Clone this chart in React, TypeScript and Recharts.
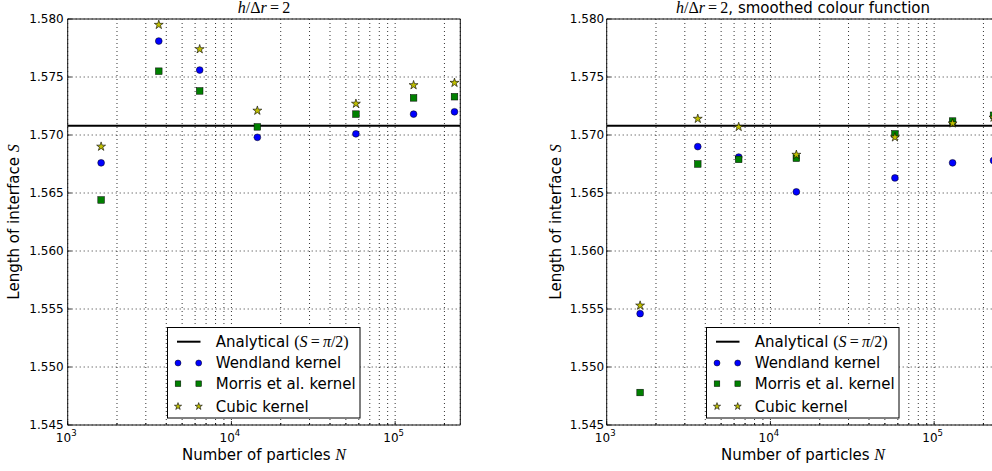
import React from "react"
import {
  ScatterChart,
  Scatter,
  XAxis,
  YAxis,
  CartesianGrid,
  ReferenceLine,
  ReferenceArea,
} from "recharts"

// number of particles N (x positions of the runs)
const particles = [1600, 3600, 6400, 14400, 57600, 129600, 230400]

// left panel: h/dr = 2
const wendlandRaw = [1.5676, 1.5781, 1.5756, 1.5698, 1.5701, 1.5718, 1.572]
const morrisRaw = [1.5644, 1.5755, 1.5738, 1.5707, 1.5718, 1.5732, 1.5733]
const cubicRaw = [1.569, 1.5795, 1.5774, 1.5721, 1.5727, 1.5743, 1.5745]

// right panel: h/dr = 2, smoothed colour function
const wendlandSmooth = [1.5546, 1.569, 1.5681, 1.5651, 1.5663, 1.5676, 1.5678]
const morrisSmooth = [1.5478, 1.5675, 1.5679, 1.568, 1.5701, 1.5712, 1.5717]
const cubicSmooth = [1.5553, 1.5714, 1.5707, 1.5683, 1.5698, 1.571, 1.5715]

const analytical = Math.PI / 2

const majorTicks = [1000, 10000, 100000]
const xTicks = [
  1000, 2000, 3000, 4000, 5000, 6000, 7000, 8000, 9000,
  10000, 20000, 30000, 40000, 50000, 60000, 70000, 80000, 90000,
  100000, 200000,
]
const yTicks = [1.545, 1.55, 1.555, 1.56, 1.565, 1.57, 1.575, 1.58]

const X_MIN = 1000
const X_MAX = 250000
const Y_MIN = 1.545
const Y_MAX = 1.58

const SANS = "'DejaVu Sans', sans-serif"
const SERIF = "'Liberation Serif', 'DejaVu Serif', serif"

const starPoints = (cx: number, cy: number, R: number) => {
  const r = R * 0.382
  const pts: string[] = []
  for (let i = 0; i < 10; i++) {
    const a = -Math.PI / 2 + (i * Math.PI) / 5
    const rad = i % 2 === 0 ? R : r
    pts.push(`${cx + rad * Math.cos(a)},${cy + rad * Math.sin(a)}`)
  }
  return pts.join(" ")
}

const CircleMark = ({ cx, cy, r = 3.4 }: any) => (
  <circle cx={cx} cy={cy} r={r} fill="#0000ff" stroke="#000" strokeWidth={0.5} />
)
const SquareMark = ({ cx, cy, s = 6.6 }: any) => (
  <rect x={cx - s / 2} y={cy - s / 2} width={s} height={s} fill="#008000" stroke="#000" strokeWidth={0.5} />
)
const StarMark = ({ cx, cy, R = 4.7 }: any) => (
  <polygon points={starPoints(cx, cy, R)} fill="#bfbf00" stroke="#000" strokeWidth={0.6} strokeLinejoin="miter" />
)

const XTick = (props: any) => {
  const { x, y, payload } = props
  const v = payload.value
  const major = majorTicks.includes(v)
  return (
    <g>
      <line x1={x} x2={x} y1={y} y2={y - (major ? 4 : 2)} stroke="#000" strokeWidth={0.8} />
      {major && (
        <text x={x - 1.5} y={y + 16.7} textAnchor="middle" fontSize={12} fontFamily={SANS} fill="#000">
          10
          <tspan dy={-5.5} fontSize={8.5}>
            {Math.round(Math.log10(v))}
          </tspan>
        </text>
      )}
    </g>
  )
}

const makeYTick = (gap: number) => (props: any) => {
  const { x, y, payload } = props
  return (
    <g>
      <line x1={x} x2={x + 4} y1={y} y2={y} stroke="#000" strokeWidth={0.8} />
      <text x={x - gap} y={y + 4.3} textAnchor="end" fontSize={12} fontFamily={SANS} fill="#000">
        {Number(payload.value).toFixed(3)}
      </text>
    </g>
  )
}

const MathTitle = () => (
  <>
    <tspan fontFamily={SERIF} fontStyle="italic" fontSize={16}>h</tspan>
    <tspan fontFamily={SERIF} fontSize={16}>/Δ</tspan>
    <tspan fontFamily={SERIF} fontStyle="italic" fontSize={16}>r</tspan>
    <tspan fontFamily={SERIF} fontSize={16}>{"\u2009=\u20092"}</tspan>
  </>
)

const LegendBox = () => {
  const rows = [14.7, 36, 56.7, 79.4]
  const text = (i: number, content: React.ReactNode) => (
    <text x={48.7} y={rows[i] + 5.2} fontSize={15} fontFamily={SANS} fill="#000">
      {content}
    </text>
  )
  return (
    <svg width={194} height={92} style={{ position: "absolute", left: 167, top: 327 }}>
      <rect x={0.5} y={0.5} width={192.5} height={90.5} fill="#fff" stroke="#000" strokeWidth={1} />
      <line x1={10} x2={33.5} y1={rows[0]} y2={rows[0]} stroke="#000" strokeWidth={2} />
      {text(
        0,
        <>
          {"Analytical "}
          <tspan fontFamily={SERIF} fontSize={16}>(</tspan>
          <tspan fontFamily={SERIF} fontStyle="italic" fontSize={16}>S</tspan>
          <tspan fontFamily={SERIF} fontSize={16}>{"\u2009=\u2009"}</tspan>
          <tspan fontFamily={SERIF} fontStyle="italic" fontSize={16}>π</tspan>
          <tspan fontFamily={SERIF} fontSize={16}>/2)</tspan>
        </>
      )}
      <CircleMark cx={11} cy={rows[1]} r={3} />
      <CircleMark cx={31.7} cy={rows[1]} r={3} />
      {text(1, "Wendland kernel")}
      <SquareMark cx={11} cy={rows[2]} s={5.6} />
      <SquareMark cx={31.7} cy={rows[2]} s={5.6} />
      {text(2, "Morris et al. kernel")}
      <StarMark cx={11} cy={rows[3]} R={3.8} />
      <StarMark cx={31.7} cy={rows[3]} R={3.8} />
      {text(3, "Cubic kernel")}
    </svg>
  )
}

interface PanelProps {
  left: number
  wendland: number[]
  morris: number[]
  cubic: number[]
  subtitle?: string
  tickGap: number
  labelX: number
}

const Panel: React.FC<PanelProps> = ({ left, wendland, morris, cubic, subtitle, tickGap, labelX }) => {
  const toPoints = (vals: number[]) => particles.map((n, i) => ({ n, s: vals[i] }))
  return (
    <div style={{ position: "absolute", left, top: 0, width: 470, height: 471 }}>
      <ScatterChart width={470} height={471} margin={{ top: 19, right: 9.7, bottom: 0, left: 0 }}>
        <CartesianGrid stroke="#000" strokeWidth={0.8} strokeDasharray="1 3" />
        <XAxis
          dataKey="n"
          type="number"
          scale="log"
          domain={[X_MIN, X_MAX]}
          allowDataOverflow
          ticks={xTicks}
          interval={0}
          height={46}
          axisLine={false}
          tickLine={false}
          tickSize={0}
          tickMargin={0}
          tick={<XTick />}
          label={{
            content: (p: any) => {
              const vb = p.viewBox
              return (
                <text x={vb.x + vb.width / 2} y={vb.y + 34.6} textAnchor="middle" fontSize={15} fontFamily={SANS} fill="#000">
                  {"Number of particles "}
                  <tspan fontFamily={SERIF} fontStyle="italic" fontSize={16}>N</tspan>
                </text>
              )
            },
          }}
        />
        <YAxis
          dataKey="s"
          type="number"
          domain={[Y_MIN, Y_MAX]}
          allowDataOverflow
          ticks={yTicks}
          interval={0}
          width={67.7}
          axisLine={false}
          tickLine={false}
          tickSize={0}
          tickMargin={0}
          tick={makeYTick(tickGap)}
          label={{
            content: (p: any) => {
              const vb = p.viewBox
              const cx = vb.x + labelX
              const cy = vb.y + vb.height / 2
              return (
                <text
                  x={cx}
                  y={cy}
                  transform={`rotate(-90 ${cx} ${cy})`}
                  textAnchor="middle"
                  fontSize={15}
                  fontFamily={SANS}
                  fill="#000"
                >
                  {"Length of interface "}
                  <tspan fontFamily={SERIF} fontStyle="italic" fontSize={16}>S</tspan>
                </text>
              )
            },
          }}
        />
        <ReferenceLine y={analytical} stroke="#000" strokeWidth={2} ifOverflow="hidden" />
        <Scatter data={toPoints(wendland)} shape={(p: any) => <CircleMark cx={p.cx} cy={p.cy} />} isAnimationActive={false} />
        <Scatter data={toPoints(morris)} shape={(p: any) => <SquareMark cx={p.cx} cy={p.cy} />} isAnimationActive={false} />
        <Scatter data={toPoints(cubic)} shape={(p: any) => <StarMark cx={p.cx} cy={p.cy} />} isAnimationActive={false} />
        <ReferenceArea
          x1={X_MIN}
          x2={X_MAX}
          y1={Y_MIN}
          y2={Y_MAX}
          fill="none"
          fillOpacity={0}
          stroke="#111"
          strokeWidth={1}
          label={{
            content: (p: any) => {
              const vb = p.viewBox
              return (
                <text x={vb.x + vb.width / 2} y={vb.y - 6.5} textAnchor="middle" fontSize={15} fontFamily={SANS} fill="#000">
                  <MathTitle />
                  {subtitle ? subtitle : null}
                </text>
              )
            },
          }}
        />
      </ScatterChart>
      <LegendBox />
    </div>
  )
}

export default function App() {
  return (
    <div
      style={{
        position: "fixed",
        left: 0,
        top: 0,
        width: 992,
        height: 471,
        overflow: "hidden",
        background: "#fff",
      }}
    >
      <Panel left={0} wendland={wendlandRaw} morris={morrisRaw} cubic={cubicRaw} tickGap={4} labelX={18.6} />
      <Panel
        left={539}
        wendland={wendlandSmooth}
        morris={morrisSmooth}
        cubic={cubicSmooth}
        subtitle=", smoothed colour function"
        tickGap={2.5}
        labelX={21.6}
      />
    </div>
  )
}
